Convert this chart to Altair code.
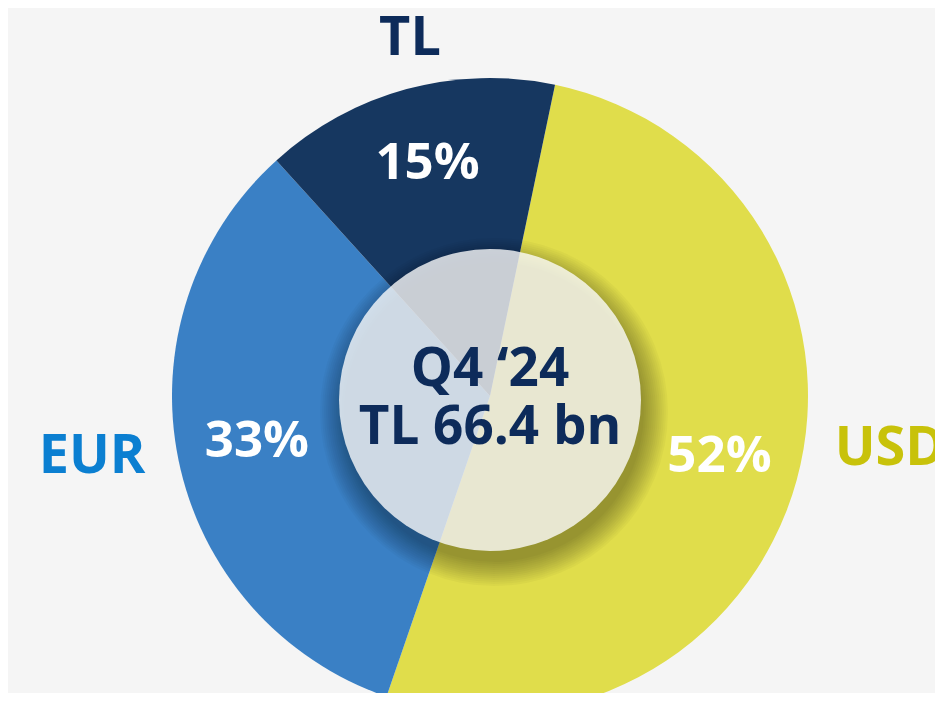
import math
import altair as alt
import pandas as pd

# ---- data ----
categories = ["USD", "EUR", "TL"]
shares = [52, 33, 15]
pct_labels = ["52%", "33%", "15%"]
slice_colors = ["#e0dd4b", "#3a80c5", "#163760"]
label_colors = ["#c8c20a", "#0b7fd1", "#0d2b5a"]
center_lines = ["Q4 \u201824", "TL 66.4 bn"]

df = pd.DataFrame({
    "cat": categories,
    "share": shares,
    "label": pct_labels,
    "order": list(range(len(categories))),
})
one = pd.DataFrame({"k": [0]})

FONT = "Open Sans"
CX, CY = 482, 388          # pie centre (svg coords)
R = 318
start = math.radians(11.8)
theta_scale = alt.Scale(range=[start, start + 2 * math.pi])


def circle_size(r):
    # Vega symbol size is the area of the bounding square
    return 4 * r * r


base = alt.Chart(df).encode(
    theta=alt.Theta("share:Q", stack=True, scale=theta_scale),
    order=alt.Order("order:Q"),
)

pie = base.mark_arc(outerRadius=R, x=CX, y=CY, stroke=None).encode(
    color=alt.Color("cat:N", scale=alt.Scale(domain=categories, range=slice_colors), legend=None)
)

pct = base.mark_text(radius=238, x=CX, y=CY - 2, font=FONT, fontWeight=700, fontSize=51,
                     color="white", baseline="middle", align="center").encode(
    text="label:N"
)

# soft shadow under centre disc
shadow_layers = []
for r in range(150, 176, 2):
    shadow_layers.append(
        alt.Chart(one).mark_circle(size=circle_size(r), color="#000000", opacity=0.028, stroke=None)
        .encode(x=alt.value(CX + 4), y=alt.value(CY + 16))
    )

disc = alt.Chart(one).mark_circle(size=circle_size(151), color="#ffffff", opacity=0.78, stroke=None).encode(
    x=alt.value(CX), y=alt.value(CY + 4)
)

center1 = alt.Chart(one).mark_text(font=FONT, fontWeight=700, fontSize=53, color="#0d2b5a",
                                   baseline="middle", align="center").encode(
    x=alt.value(CX), y=alt.value(362), text=alt.value(center_lines[0]))
center2 = alt.Chart(one).mark_text(font=FONT, fontWeight=700, fontSize=53, color="#0d2b5a",
                                   baseline="middle", align="center").encode(
    x=alt.value(CX), y=alt.value(420), text=alt.value(center_lines[1]))

outer_pos = {"TL": (402, 31), "EUR": (84, 449), "USD": (882, 441)}
outer = []
for cat, col in zip(categories, label_colors):
    px, py = outer_pos[cat]
    outer.append(
        alt.Chart(one).mark_text(font=FONT, fontWeight=700, fontSize=54, color=col,
                                 baseline="middle", align="center").encode(
            x=alt.value(px), y=alt.value(py), text=alt.value(cat))
    )

chart = alt.layer(pie, *shadow_layers, disc, pct, center1, center2, *outer).properties(
    width=927, height=685, padding=0, autosize=alt.AutoSizeParams(type="none"),
    background="#f5f5f5",
).configure_view(stroke=None)

chart.save("out.html", embed_options={"renderer": "svg", "actions": False})
